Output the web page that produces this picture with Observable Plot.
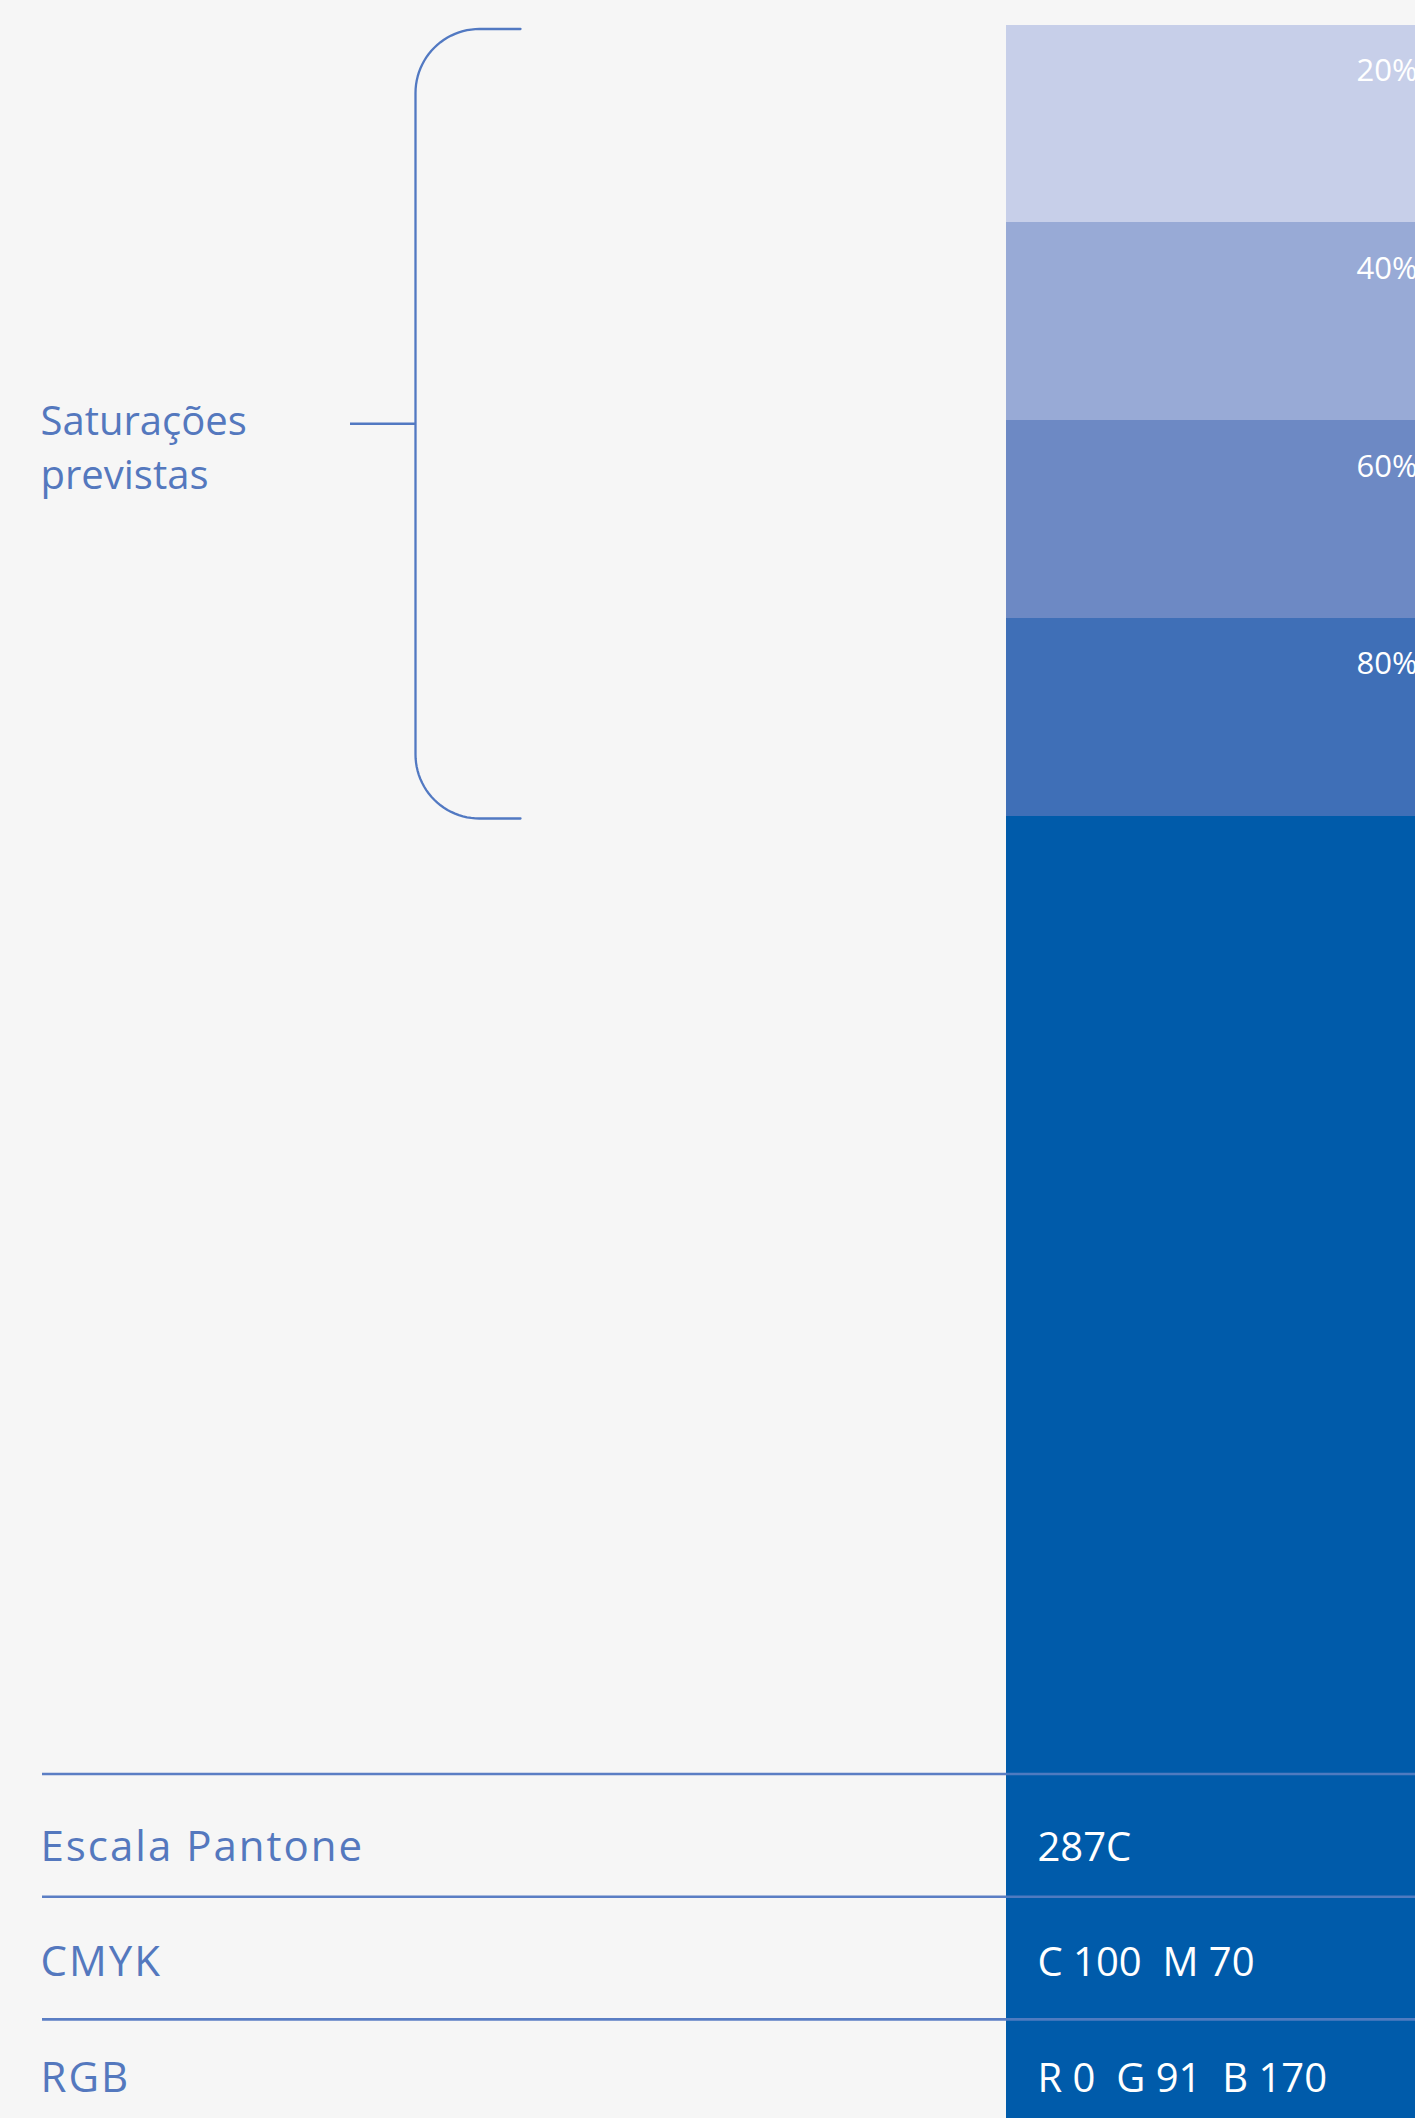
<!DOCTYPE html>
<html><head><meta charset="utf-8">
<script src="https://cdn.jsdelivr.net/npm/d3@7"></script>
<script src="https://cdn.jsdelivr.net/npm/@observablehq/plot@0.6"></script>
<style>html,body{margin:0;padding:0;background:#f6f6f6;} #chart svg{display:block;}</style>
</head><body><div id="chart"></div>
<script>
// ---- data ----
const saturations = [20, 40, 60, 80];
const tintColors = ["#c7cfe9", "#98aad6", "#6d89c4", "#3f6fb7"];
const baseColor = "#005baa";
const bracketLabel = ["Saturações", "previstas"];
const specLabels = ["Escala Pantone", "CMYK", "RGB"];
const specValues = ["287C", "C 100\u00a0 M 70", "R 0\u00a0 G 91\u00a0 B 170"];

// ---- layout (code, not data) ----
const W = 1415, H = 2118;
const L = {
  swatchX: 1006, swatchTop: 24.5, tintH: 197.75,
  pctX: 1356, pctDy: 56,
  bracketX: 415, bracketEnd: 520, r: 64, bracketTop: 28.5, bracketBottom: 818, tickX: 350,
  labelX: 40, labelBase: 488,
  ruleTop: 1773.5, ruleStep: 122.7, textTop: 1860, textStep: 115.5, valueX: 1037
};
const textColor = "#5478be", lineColor = "#5279c2", font = "Open Sans";

const tints = saturations.map((s, i) => ({
  s, label: s + "%",
  y1: L.swatchTop + i * L.tintH, y2: L.swatchTop + (i + 1) * L.tintH
}));
const base = [{y1: L.swatchTop + saturations.length * L.tintH, y2: H}];

// bracket geometry
function arc(cx, cy, r, a0, a1, n = 24) {
  return d3.range(n + 1).map(k => {
    const a = a0 + (a1 - a0) * k / n;
    return {x: cx + r * Math.cos(a), y: cy + r * Math.sin(a)};
  });
}
const bx = L.bracketX, r = L.r, bt = L.bracketTop, bb = L.bracketBottom;
const bracket = [
  {x: L.bracketEnd, y: bt},
  ...arc(bx + r, bt + r, r, -Math.PI / 2, -Math.PI),
  ...arc(bx + r, bb - r, r, Math.PI, Math.PI / 2),
  {x: L.bracketEnd, y: bb}
];
const mid = (bt + bb) / 2;

const rows = specLabels.map((label, i) => ({
  label, value: specValues[i],
  ry: L.ruleTop + i * L.ruleStep,
  ty: L.textTop + i * L.textStep
}));

const chart = Plot.plot({
  width: W, height: H,
  margin: 0,
  x: {domain: [0, W], range: [0, W], axis: null},
  y: {domain: [0, H], range: [0, H], axis: null},
  color: {type: "ordinal", domain: saturations, range: tintColors},
  style: {background: "#f6f6f6", overflow: "hidden"},
  marks: [
    Plot.rect(base, {x1: L.swatchX, x2: W, y1: "y1", y2: "y2", fill: baseColor}),
    Plot.rect(tints, {x1: L.swatchX, x2: W, y1: "y1", y2: "y2", fill: "s", shapeRendering: "crispEdges"}),
    Plot.text(tints, {x: L.pctX, y: d => d.y1 + L.pctDy, text: "label", fill: "white",
      fontSize: 31, fontFamily: font, textAnchor: "start", lineAnchor: "bottom"}),
    Plot.line(bracket, {x: "x", y: "y", stroke: lineColor, strokeWidth: 2.3}),
    Plot.ruleY([mid], {x1: L.tickX, x2: bx, stroke: lineColor, strokeWidth: 2.3}),
    Plot.text([bracketLabel.join("\n")], {x: L.labelX, y: L.labelBase, text: d => d,
      fill: textColor, fontSize: 40, fontFamily: font, textAnchor: "start",
      lineAnchor: "bottom", lineHeight: 1.33}),
    Plot.ruleY(rows, {y: "ry", x1: L.labelX + 2, x2: L.swatchX, stroke: "#5b7ec4", strokeWidth: 2.6}),
    Plot.ruleY(rows, {y: "ry", x1: L.swatchX, x2: W, stroke: "#4f7bc0", strokeWidth: 2.6}),
    Plot.text(rows, {x: L.labelX, y: "ty", text: "label", fill: textColor, fontSize: 42,
      fontFamily: font, textAnchor: "start", lineAnchor: "bottom"}),
    Plot.text(rows, {x: L.valueX, y: "ty", text: "value", fill: "white", fontSize: 40,
      fontFamily: font, textAnchor: "start", lineAnchor: "bottom"})
  ]
});
d3.select(chart).selectAll("text")
  .filter(function() { return specLabels.includes(this.textContent); })
  .style("letter-spacing", "2px");
document.getElementById("chart").append(chart);
</script></body></html>
